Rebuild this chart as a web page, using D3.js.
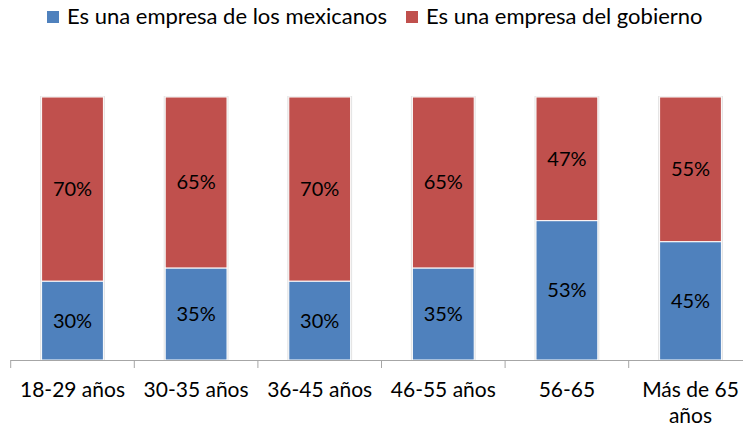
<!DOCTYPE html>
<html><head><meta charset="utf-8">
<script src="https://cdn.jsdelivr.net/npm/d3@7/dist/d3.min.js"></script>
<style>body{margin:0;background:#fff}svg{display:block}text{font-family:Lato,"Open Sans",sans-serif;fill:#000}</style>
</head><body><svg id="c" width="743" height="433"></svg>
<script>
const categories = ["18-29 años","30-35 años","36-45 años","46-55 años","56-65","Más de 65 años"];
const seriesNames = ["Es una empresa de los mexicanos","Es una empresa del gobierno"];
const mexicanos = [30,35,30,35,53,45];
const gobierno = [70,65,70,65,47,55];
const colors = ["#4f81bd","#c0504d"];

const svg = d3.select("#c");
const plotLeft = 10.7, step = 123.6, plotTop = 97, plotBottom = 360;
const x = d3.scaleBand().domain(categories).range([plotLeft, plotLeft + step*categories.length]).paddingInner(0.5).paddingOuter(0.25);
const y = d3.scaleLinear().domain([0,100]).range([plotBottom, plotTop]);

const data = categories.map((c,i)=>({c, v:[mexicanos[i], gobierno[i]]}));

// shadow
svg.append("g").selectAll("rect").data(data).join("rect")
  .attr("x", d=>x(d.c)-1.5).attr("width", x.bandwidth()+3)
  .attr("y", y(100)-1).attr("height", y(0)-y(100)+1)
  .attr("fill","#e3e3e3");

const g = svg.append("g");
data.forEach(d=>{
  let acc = 0;
  d.v.forEach((v,k)=>{
    const y0 = acc, y1 = acc+v; acc = y1;
    g.append("rect").attr("x", x(d.c)).attr("width", x.bandwidth())
      .attr("y", y(y1)).attr("height", y(y0)-y(y1))
      .attr("fill", colors[k]).attr("stroke","#fff").attr("stroke-width",1);
    g.append("text").attr("x", x(d.c)+x.bandwidth()/2).attr("y", y((y0+y1)/2))
      .attr("dy","0.35em").attr("text-anchor","middle").attr("font-size",20)
      .text(v+"%");
  });
});

// axis
const ax = svg.append("g").attr("transform",`translate(0,${plotBottom})`)
  .call(d3.axisBottom(x).tickSize(0).tickFormat(""));
ax.select(".domain").attr("stroke","#a6a6a6").attr("d",`M${plotLeft},0.5H743`);
const boundaries = d3.range(categories.length+1).map(i=>plotLeft+i*step);
ax.selectAll(".bt").data(boundaries).join("line").attr("class","bt")
  .attr("x1",d=>d).attr("x2",d=>d).attr("y1",0).attr("y2",8).attr("stroke","#a6a6a6");

const lab = svg.append("g");
categories.forEach(c=>{
  const cx = x(c)+x.bandwidth()/2;
  const lines = c==="Más de 65 años" ? ["Más de 65","años"] : [c];
  lines.forEach((t,j)=>{
    lab.append("text").attr("x",cx).attr("y",397+j*26).attr("text-anchor","middle")
      .attr("font-size",21).text(t);
  });
});

// legend
const leg = svg.append("g");
const legX = [47, 406];
seriesNames.forEach((n,k)=>{
  leg.append("rect").attr("x",legX[k]).attr("y",11).attr("width",12).attr("height",12).attr("fill",colors[k]);
  leg.append("text").attr("x",legX[k]+20).attr("y",24).attr("font-size",22).text(n);
});
</script></body></html>
